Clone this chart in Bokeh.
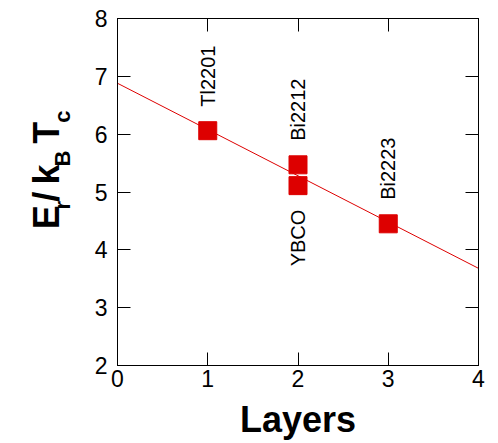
import math
from bokeh.plotting import figure
from bokeh.layouts import row
from bokeh.models import LinearAxis, Range1d, ColumnDataSource, FixedTicker
from bokeh.core.properties import value
from bokeh.embed import file_html
from bokeh.resources import INLINE

# ---- data ----
layers = [1, 2, 2, 3]
energy = [6.06, 5.47, 5.11, 4.45]
compounds = ["Tl2201", "Bi2212", "YBCO", "Bi2223"]
label_above = [True, True, False, True]

fit_x = [0, 4]
fit_y = [6.88, 3.68]

x_ticks = [0, 1, 2, 3, 4]
y_ticks = [2, 3, 4, 5, 6, 7, 8]
x_title = "Layers"

# ---- layout ----
TOTAL_W, H = 498, 443
LW = 84                      # width of the strip that holds the y title
W = TOTAL_W - LW
BL, BR, BT, BB = 117 - LW, 20, 18, 78
X0, X1, Y0, Y1 = 0, 4, 2, 8
FONT = "Liberation Sans"
RED = "#dd0000"

p = figure(width=W, height=H, x_range=Range1d(X0, X1), y_range=Range1d(Y0, Y1),
           output_backend="svg", toolbar_location=None,
           min_border_left=BL, min_border_right=BR, min_border_top=BT, min_border_bottom=BB)
p.grid.visible = False
p.outline_line_color = "black"
p.outline_line_width = 1
p.background_fill_color = "white"
p.border_fill_color = "white"

def style_axis(ax, show_labels=True):
    ax.major_tick_in = 13
    ax.major_tick_out = 0
    ax.minor_tick_in = 0
    ax.minor_tick_out = 0
    ax.major_tick_line_color = "black"
    ax.axis_line_color = "black"
    if show_labels:
        ax.major_label_text_font = FONT
        ax.major_label_text_font_size = "23px"
        ax.major_label_text_color = "black"
    else:
        ax.major_label_text_font_size = "0px"
        ax.major_label_standoff = 0

xa = p.xaxis[0]
ya = p.yaxis[0]
xa.ticker = FixedTicker(ticks=x_ticks)
ya.ticker = FixedTicker(ticks=y_ticks)
style_axis(xa)
style_axis(ya)
xa.major_label_standoff = 4
ya.major_label_standoff = 10
xa.axis_label = x_title
xa.axis_label_text_font = FONT
xa.axis_label_text_font_style = "bold"
xa.axis_label_text_font_size = "36px"
xa.axis_label_text_color = "black"
xa.axis_label_standoff = 9

ra = LinearAxis(ticker=FixedTicker(ticks=y_ticks))
ta = LinearAxis(ticker=FixedTicker(ticks=x_ticks))
style_axis(ra, False)
style_axis(ta, False)
p.add_layout(ra, "right")
p.add_layout(ta, "above")

# fit line and points
p.line(fit_x, fit_y, line_color=RED, line_width=1)
src = ColumnDataSource(dict(x=layers, y=energy, name=compounds))
p.scatter("x", "y", source=src, marker="square", size=18, fill_color=RED, line_color=RED)

above = ColumnDataSource(dict(x=[l for l, a in zip(layers, label_above) if a],
                              y=[e for e, a in zip(energy, label_above) if a],
                              t=[c for c, a in zip(compounds, label_above) if a]))
below = ColumnDataSource(dict(x=[l for l, a in zip(layers, label_above) if not a],
                              y=[e for e, a in zip(energy, label_above) if not a],
                              t=[c for c, a in zip(compounds, label_above) if not a]))
p.text("x", "y", text="t", source=above, angle=math.pi / 2, text_align="left",
       text_baseline="middle", y_offset=-24, text_font=value(FONT),
       text_font_size="20px", text_color="black")
p.text("x", "y", text="t", source=below, angle=math.pi / 2, text_align="right",
       text_baseline="middle", y_offset=24, text_font=value(FONT),
       text_font_size="20px", text_color="black")

# ---- y title strip: pixel-unit figure holding "E_r / k_B T_c" with subscripts ----
q = figure(width=LW, height=H, x_range=Range1d(0, LW), y_range=Range1d(0, H),
           output_backend="svg", toolbar_location=None,
           x_axis_type=None, y_axis_type=None,
           min_border_left=0, min_border_right=0, min_border_top=0, min_border_bottom=0)
q.grid.visible = False
q.outline_line_color = None
q.background_fill_color = "white"
q.border_fill_color = "white"

MAIN_BASE = 46
SUB_BASE = 62
pieces = [("E", 36, 269, MAIN_BASE), ("r", 22, 244, SUB_BASE), ("/", 36, 234, MAIN_BASE),
          ("k", 36, 212, MAIN_BASE), ("B", 22, 189, SUB_BASE), ("T", 36, 160, MAIN_BASE),
          ("c", 22, 133, SUB_BASE)]
for txt, size, py, px in pieces:
    q.text(x=[px], y=[H - py], text=[txt], angle=math.pi / 2,
           text_align="left", text_baseline="alphabetic",
           text_font=value(FONT), text_font_style="bold",
           text_font_size=f"{size}px", text_color="black")

layout = row(q, p, spacing=0)
open("out.html", "w").write(file_html(layout, INLINE))
